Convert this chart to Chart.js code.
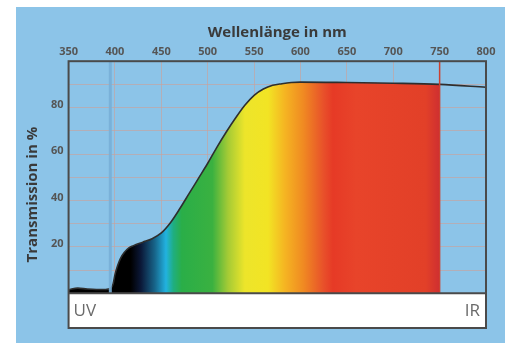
<!DOCTYPE html>
<html>
<head>
<meta charset="utf-8">
<script src="https://cdn.jsdelivr.net/npm/chart.js@4"></script>
<style>
  html, body { margin: 0; padding: 0; background: #fff; }
  #wrap { position: absolute; left: 16px; top: 7px; width: 489px; height: 336px; background: #8cc4e8; }
</style>
</head>
<body>
<div id="wrap"><canvas id="chartSpektrum"></canvas></div>
<script>
// Wellenlaenge (nm) und Transmission (%)
const wellenlaenge = [350, 360, 370, 380, 390, 395, 398, 400, 403, 406,
                      410, 415, 420, 430, 440, 450, 460, 470, 480, 490,
                      500, 510, 520, 530, 540, 550, 560, 570, 580, 590,
                      600, 650, 700, 750, 800];
const transmission = [1.5, 2.2, 1.8, 1.6, 1.6, 2, 4, 8, 12, 15,
                      17.5, 19.5, 20.5, 22, 23.5, 26, 30.5, 36.5, 43, 49.5,
                      56, 63, 69.5, 75.5, 81, 85.3, 88, 89.6, 90.3, 90.8,
                      91, 90.8, 90.5, 90, 88.8];
const xTicks = [350, 400, 450, 500, 550, 600, 650, 700, 750, 800];
const yTicks = [0, 10, 20, 30, 40, 50, 60, 70, 80, 90, 100];
const yLabels = [20, 40, 60, 80];
const uvGrenze = 395;
const irGrenze = 750;

// Farbverlauf des sichtbaren Spektrums
const spektrum = [
  [350, '#000000'], [417, '#000000'], [428, '#0b1838'], [443, '#17658a'],
  [455, '#22b2e0'], [463, '#1fae80'], [472, '#2aae48'], [505, '#3ab140'],
  [522, '#a5cb35'], [540, '#ede52a'], [565, '#f2e424'], [583, '#f5b522'],
  [603, '#f08a22'], [625, '#e8502a'], [635, '#e63a26'], [660, '#e8442a'],
  [735, '#e24028'], [749, '#d03030']
];

function spektrumFill(context) {
  const chart = context.chart;
  const area = chart.chartArea;
  if (!area) return '#000';
  const x = chart.scales.x;
  const x0 = x.getPixelForValue(350), x1 = x.getPixelForValue(800);
  const g = chart.ctx.createLinearGradient(x0, 0, x1, 0);
  spektrum.forEach(s => g.addColorStop((s[0] - 350) / 450, s[1]));
  g.addColorStop((irGrenze - 350) / 450, '#d03030');
  g.addColorStop((irGrenze - 350) / 450 + 0.0001, 'rgba(255,255,255,0)');
  g.addColorStop(1, 'rgba(255,255,255,0)');
  return g;
}

const rahmen = {
  id: 'rahmen',
  afterDraw(chart) {
    const { ctx, chartArea: a, scales } = chart;
    const y0 = scales.y.getPixelForValue(0);
    ctx.save();
    // weisser Streifen unten
    ctx.fillStyle = '#ffffff';
    ctx.fillRect(a.left, y0, a.right - a.left, a.bottom - y0);
    // Grenzlinien UV / IR
    const xb = scales.x.getPixelForValue(uvGrenze);
    ctx.strokeStyle = 'rgba(120,175,215,0.9)';
    ctx.lineWidth = 3;
    ctx.beginPath(); ctx.moveTo(xb, a.top); ctx.lineTo(xb, y0); ctx.stroke();
    const xr = scales.x.getPixelForValue(irGrenze);
    ctx.strokeStyle = '#cc4030';
    ctx.lineWidth = 1.5;
    ctx.beginPath(); ctx.moveTo(xr, a.top); ctx.lineTo(xr, y0); ctx.stroke();
    // Rahmen
    ctx.strokeStyle = '#4a4a4a';
    ctx.lineWidth = 2;
    ctx.strokeRect(a.left, a.top, a.right - a.left, a.bottom - a.top);
    ctx.beginPath(); ctx.moveTo(a.left, y0); ctx.lineTo(a.right, y0); ctx.stroke();
    // UV / IR
    ctx.fillStyle = '#6a6a6a';
    ctx.font = '17px "Open Sans"';
    ctx.textBaseline = 'middle';
    const ym = (y0 + a.bottom) / 2 + 1;
    ctx.textAlign = 'left';
    ctx.fillText('UV', a.left + 5, ym);
    ctx.textAlign = 'right';
    ctx.fillText('IR', a.right - 6, ym);
    ctx.restore();
  }
};

const gitter = 'rgba(205,160,150,0.6)';

const ctx = document.getElementById('chartSpektrum');
new Chart(ctx, {
  type: 'line',
  data: {
    datasets: [{
      label: 'Transmission',
      data: wellenlaenge.map((w, i) => ({ x: w, y: transmission[i] })),
      borderColor: '#2e2e2e',
      borderWidth: 1.6,
      backgroundColor: spektrumFill,
      fill: 'origin',
      pointRadius: 0,
      cubicInterpolationMode: 'monotone'
    }]
  },
  plugins: [rahmen],
  options: {
    responsive: true,
    maintainAspectRatio: false,
    animation: false,
    layout: { padding: { top: 17, left: 8, right: 19, bottom: 15 } },
    plugins: {
      legend: { display: false },
      tooltip: { enabled: false }
    },
    scales: {
      x: {
        type: 'linear',
        position: 'top',
        min: 350,
        max: 800,
        z: 1,
        afterBuildTicks: s => { s.ticks = xTicks.map(v => ({ value: v })); },
        title: {
          display: true,
          text: 'Wellenlänge in nm',
          color: '#3a3a3a',
          font: { family: 'Open Sans', size: 15, weight: 'bold' },
          padding: { top: 0, bottom: 0 }
        },
        ticks: {
          color: '#555',
          font: { family: 'Open Sans', size: 11, weight: 'bold' },
          padding: 3,
          maxRotation: 0,
          autoSkip: false
        },
        grid: { color: gitter, lineWidth: 1, drawTicks: false },
        border: { display: false }
      },
      y: {
        min: -15,
        max: 100,
        z: 1,
        afterBuildTicks: s => { s.ticks = yTicks.map(v => ({ value: v })); },
        title: {
          display: true,
          text: 'Transmission in %',
          color: '#3a3a3a',
          font: { family: 'Open Sans', size: 15, weight: 'bold' },
          padding: { top: 0, bottom: 4 }
        },
        ticks: {
          color: '#555',
          font: { family: 'Open Sans', size: 11, weight: 'bold' },
          padding: 5,
          labelOffset: -3,
          autoSkip: false,
          callback: v => yLabels.includes(v) ? String(v) : ''
        },
        grid: { color: gitter, lineWidth: 1, drawTicks: false },
        border: { display: false }
      }
    }
  }
});
</script>
</body>
</html>
